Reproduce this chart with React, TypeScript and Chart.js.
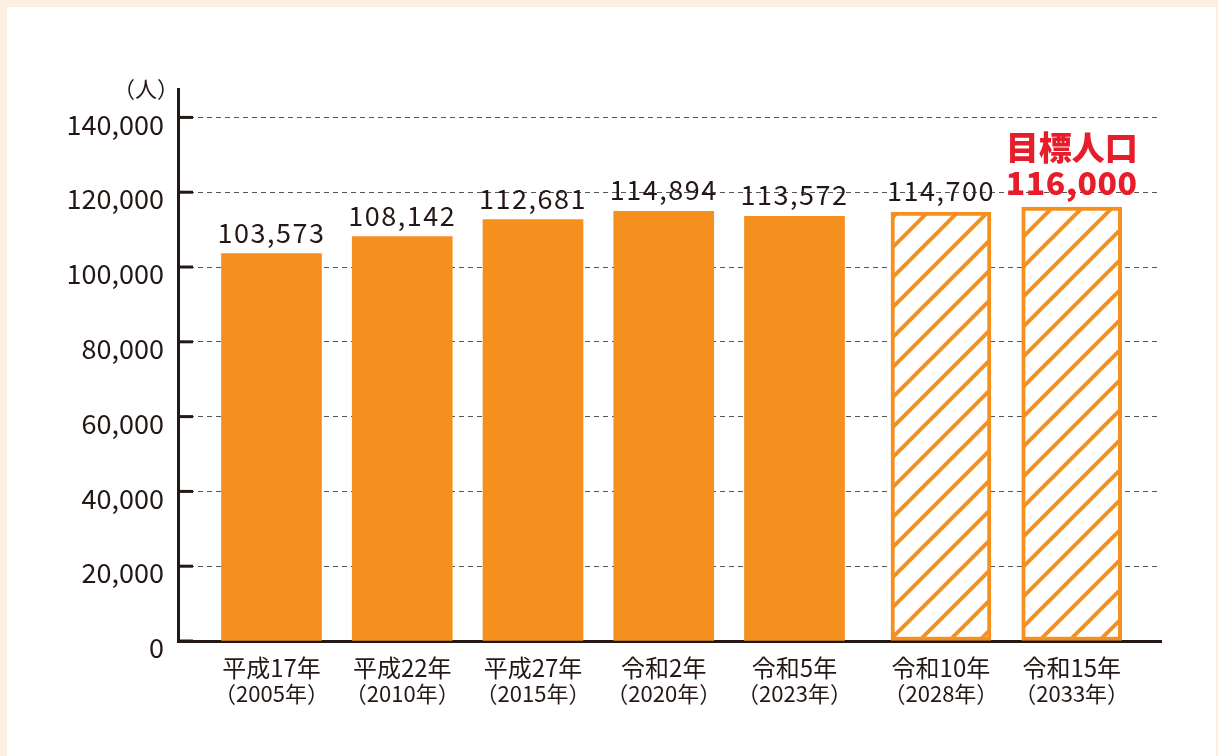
import React, { useEffect, useRef } from 'react';
import { Chart, registerables } from 'chart.js';

Chart.register(...registerables);

// ---- data ----
const categories = ['平成17年', '平成22年', '平成27年', '令和2年', '令和5年', '令和10年', '令和15年'];
const yearLabels = ['（2005年）', '（2010年）', '（2015年）', '（2020年）', '（2023年）', '（2028年）', '（2033年）'];
const population = [103573, 108142, 112681, 114894, 113572, 114700, 116000];
const projected = [false, false, false, false, false, true, true];
const targetIndex = 6;
const targetTitle = '目標人口';
const unitLabel = '（人）';
const yTicks = [0, 20000, 40000, 60000, 80000, 100000, 120000, 140000];

// ---- styles ----
const ORANGE = '#F5901F';
const INK = '#231815';
const RED = '#E61E2B';
const FONT = "'Noto Sans CJK JP', 'Noto Sans', sans-serif";
const PROJECTION_GAP = 0.12;

function makeHatch(ctx: CanvasRenderingContext2D) {
  const size = 30;
  const c = document.createElement('canvas');
  c.width = size;
  c.height = size;
  const g = c.getContext('2d')!;
  g.fillStyle = '#ffffff';
  g.fillRect(0, 0, size, size);
  g.strokeStyle = ORANGE;
  g.lineWidth = 4;
  g.beginPath();
  g.moveTo(-5, size + 5);
  g.lineTo(size + 5, -5);
  g.moveTo(-5, 5);
  g.lineTo(5, -5);
  g.moveTo(size - 5, size + 5);
  g.lineTo(size + 5, size - 5);
  g.stroke();
  return ctx.createPattern(c, 'repeat')!;
}

const fmt = (v: number) => Number(v).toLocaleString('en-US');

const decorations = {
  id: 'decorations',
  afterDraw(chart: any) {
    const { ctx, chartArea, scales } = chart;
    const yS = scales.y;
    ctx.save();
    // inward tick marks on the y axis
    ctx.strokeStyle = INK;
    ctx.lineWidth = 3;
    yS.ticks.forEach((t: any) => {
      const py = yS.getPixelForValue(t.value);
      ctx.beginPath();
      ctx.moveTo(chartArea.left, py);
      ctx.lineTo(chartArea.left + 15, py);
      ctx.stroke();
    });

    // unit label
    ctx.fillStyle = INK;
    ctx.font = `400 22px ${FONT}`;
    ctx.textAlign = 'center';
    ctx.textBaseline = 'middle';
    ctx.fillText(unitLabel, chartArea.left - 32, chartArea.top);

    // category labels
    ctx.textBaseline = 'alphabetic';
    const meta = chart.getDatasetMeta(0);
    meta.data.forEach((el: any, i: number) => {
      const px = el.x;
      ctx.fillStyle = INK;
      ctx.font = `400 24px ${FONT}`;
      ctx.fillText(categories[i], px, chartArea.bottom + 35.5);
      ctx.font = `400 22px ${FONT}`;
      ctx.fillText(yearLabels[i], px, chartArea.bottom + 60.5);
    });

    // value labels
    meta.data.forEach((el: any, i: number) => {
      if (i === targetIndex) {
        ctx.fillStyle = RED;
        (ctx as any).letterSpacing = '0.5px';
        ctx.font = `900 32px ${FONT}`;
        ctx.fillText(fmt(population[i]), el.x, el.y - 12);
        (ctx as any).letterSpacing = '0px';
        ctx.font = `900 33px ${FONT}`;
        ctx.fillText(targetTitle, el.x, el.y - 47);
      } else {
        ctx.fillStyle = INK;
        (ctx as any).letterSpacing = '1.5px';
        ctx.font = `400 27px ${FONT}`;
        ctx.fillText(fmt(population[i]), el.x, el.y - 11);
        (ctx as any).letterSpacing = '0px';
      }
    });
    ctx.restore();
  },
};

export default function App() {
  const ref = useRef<HTMLCanvasElement>(null);

  useEffect(() => {
    const canvas = ref.current!;
    const ctx = canvas.getContext('2d')!;
    const hatch = makeHatch(ctx);
    const chart = new Chart(ctx, {
      type: 'bar',
      data: {
        datasets: [
          {
            data: population.map((v, i) => ({ x: i + (projected[i] ? PROJECTION_GAP : 0), y: v })),
            backgroundColor: projected.map((p) => (p ? hatch : ORANGE)),
            borderColor: ORANGE,
            borderWidth: projected.map((p) => (p ? 4 : 0)),
            borderSkipped: false,
            barThickness: 100,
          } as any,
        ],
      },
      options: {
        animation: false,
        responsive: false,
        maintainAspectRatio: false,
        layout: { padding: { top: 89, right: 57, left: 0, bottom: 0 } },
        plugins: { legend: { display: false }, tooltip: { enabled: false } },
        scales: {
          x: {
            type: 'linear',
            offset: false,
            min: -0.715,
            max: 6.803,
            grid: { display: false, offset: false },
            ticks: { display: false },
            border: { display: true, color: INK, width: 3 },
            afterFit(s: any) {
              s.height = 115;
            },
          },
          y: {
            min: 0,
            max: 147600,
            afterBuildTicks(s: any) {
              s.ticks = yTicks.map((v) => ({ value: v }));
            },
            ticks: {
              padding: 14,
              labelOffset: 7,
              color: INK,
              font: { family: FONT, size: 27, weight: '400' },
              callback: (v: any) => fmt(v),
            },
            grid: { color: '#555555', lineWidth: 1, drawTicks: false },
            border: { display: true, color: INK, width: 3, dash: [5, 4] },
            afterFit(s: any) {
              s.width = 178;
            },
          },
        },
      } as any,
      plugins: [decorations],
    });
    return () => chart.destroy();
  }, []);

  return (
    <div style={{ position: 'fixed', inset: 0, background: '#FDF0E1', overflow: 'hidden' }}>
      <div style={{ position: 'absolute', left: 7, top: 7, width: 1209, height: 760, background: '#ffffff' }} />
      <canvas
        ref={ref}
        width={1218}
        height={756}
        style={{ position: 'absolute', left: 0, top: 0, width: 1218, height: 756 }}
      />
    </div>
  );
}
